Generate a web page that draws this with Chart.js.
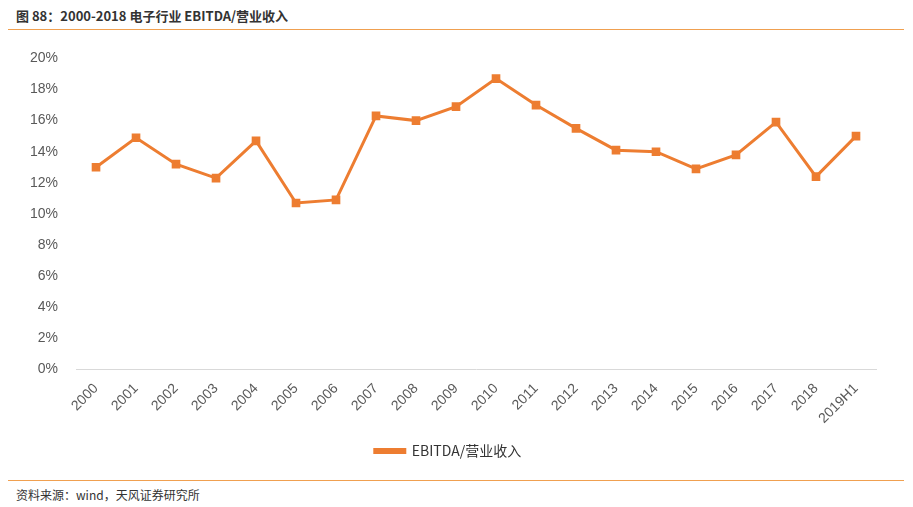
<!DOCTYPE html>
<html>
<head>
<meta charset="utf-8">
<script src="https://cdn.jsdelivr.net/npm/chart.js@4"></script>
<style>
  body { margin: 0; width: 913px; height: 507px; background: #fff; font-family: "Noto Sans CJK SC", "Noto Sans", sans-serif; position: relative; }
  .title { position: absolute; left: 16px; top: 6px; font-size: 13px; font-weight: bold; color: #333; }
  .topline { position: absolute; left: 8px; right: 9px; top: 29px; border-top: 1px solid #f0a050; }
  .botline { position: absolute; left: 8px; right: 9px; top: 480px; border-top: 1px solid #f0a050; }
  .source { position: absolute; left: 16px; top: 486px; font-size: 12px; color: #333; }
  .wrap { position: absolute; left: 8px; top: 40px; width: 896px; height: 428px; }
</style>
</head>
<body>
<div class="title">图 88：2000-2018 电子行业 EBITDA/营业收入</div>
<div class="topline"></div>
<div class="wrap"><canvas id="chart"></canvas></div>
<div class="botline"></div>
<div class="source">资料来源：wind，天风证券研究所</div>
<script>
// 类目与数值 (%)
const categories = ['2000','2001','2002','2003','2004','2005','2006','2007','2008','2009',
  '2010','2011','2012','2013','2014','2015','2016','2017','2018','2019H1'];
const ebitdaRatio = [13.0, 14.9, 13.2, 12.3, 14.7, 10.7, 10.9, 16.3, 16.0, 16.9,
  18.7, 17.0, 15.5, 14.1, 14.0, 12.9, 13.8, 15.9, 12.4, 15.0];
const seriesName = 'EBITDA/营业收入';

const ctx = document.getElementById('chart').getContext('2d');
new Chart(ctx, {
  type: 'line',
  data: {
    labels: categories,
    datasets: [{
      label: seriesName,
      data: ebitdaRatio,
      borderColor: '#ed7d31',
      backgroundColor: '#ed7d31',
      borderWidth: 3,
      pointStyle: 'rect',
      pointRadius: 4,
      tension: 0
    }]
  },
  options: {
    responsive: true,
    maintainAspectRatio: false,
    animation: false,
    layout: { padding: { left: 12, right: 28, top: 10 } },
    plugins: {
      legend: {
        position: 'bottom',
        labels: {
          boxWidth: 30, boxHeight: 3,
          color: '#333', font: { size: 14, family: 'Noto Sans CJK SC' }, padding: 14
        }
      },
      tooltip: { enabled: false }
    },
    scales: {
      x: {
        offset: true,
        grid: { display: false },
        border: { color: '#d9d9d9' },
        ticks: { color: '#595959', font: { size: 14 }, maxRotation: 45, minRotation: 45 }
      },
      y: {
        min: 0, max: 20,
        grid: { display: false },
        border: { display: false },
        ticks: { stepSize: 2, color: '#595959', font: { size: 14 }, padding: 10, callback: v => v + '%' }
      }
    }
  }
});
</script>
</body>
</html>
